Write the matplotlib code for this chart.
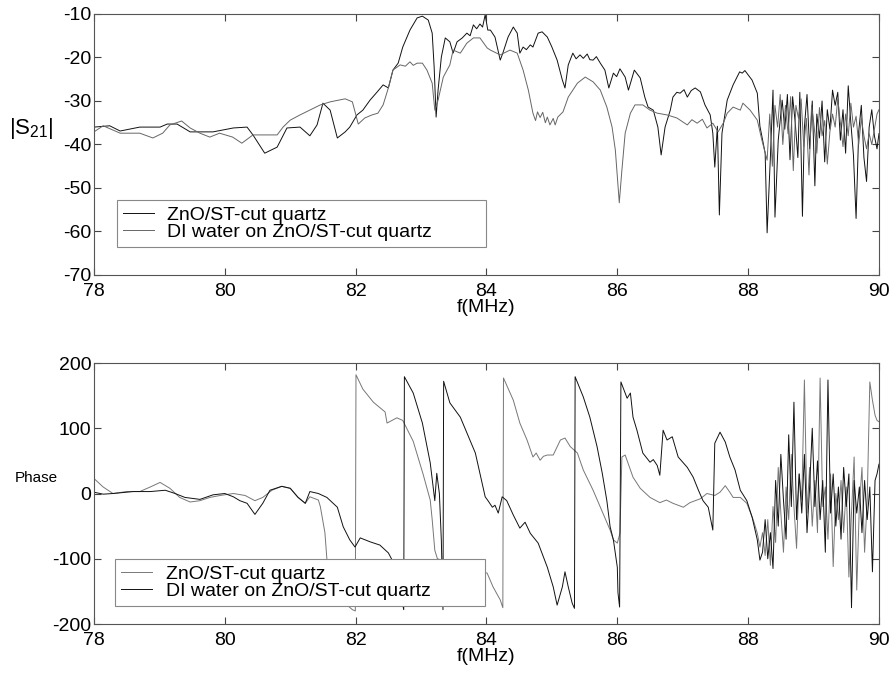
import matplotlib
matplotlib.use("Agg")
import matplotlib.pyplot as plt

plt.rcParams['font.family'] = ['Liberation Sans', 'DejaVu Sans']
plt.rcParams['mathtext.fontset'] = 'custom'
plt.rcParams['mathtext.rm'] = 'Liberation Sans'
plt.rcParams['mathtext.it'] = 'Liberation Sans'
plt.rcParams['axes.unicode_minus'] = False

# ---------------- top panel: |S21| (dB) ----------------
top_f_zno = [78.00, 78.24, 78.40, 78.70, 79.01, 79.12, 79.27, 79.47, 79.62, 79.82, 80.13, 80.34, 80.43,
             80.61, 80.80, 80.95, 81.15, 81.30, 81.41, 81.50, 81.61, 81.72, 81.84, 81.91, 82.02, 82.11,
             82.22, 82.33, 82.42, 82.50, 82.57, 82.65, 82.72, 82.83, 82.94, 83.02, 83.11, 83.17, 83.20,
             83.23, 83.26, 83.31, 83.37, 83.44, 83.49, 83.55, 83.63, 83.70, 83.75, 83.80, 83.85, 83.90,
             83.94, 83.98, 84.02, 84.06, 84.13, 84.21, 84.25, 84.33, 84.41, 84.47, 84.51, 84.56, 84.61,
             84.67, 84.71, 84.79, 84.85, 84.93, 85.00, 85.08, 85.16, 85.20, 85.25, 85.32, 85.37, 85.43,
             85.48, 85.54, 85.58, 85.63, 85.68, 85.74, 85.81, 85.87, 85.94, 85.99, 86.04, 86.12, 86.17,
             86.26, 86.35, 86.42, 86.47, 86.55, 86.62, 86.67, 86.73, 86.81, 86.85, 86.91, 86.96, 87.02,
             87.07, 87.13, 87.19, 87.27, 87.34, 87.42, 87.46, 87.49, 87.53, 87.56, 87.60, 87.68, 87.77,
             87.83, 87.87, 87.91, 87.95, 87.98, 88.06, 88.14, 88.18, 88.26, 88.29, 88.34, 88.38, 88.41,
             88.46, 88.52, 88.56, 88.60, 88.64, 88.68, 88.72, 88.76, 88.79, 88.83, 88.86, 88.90, 88.94,
             88.98, 89.02, 89.05, 89.09, 89.13, 89.17, 89.21, 89.25, 89.29, 89.33, 89.37, 89.41, 89.45,
             89.49, 89.53, 89.57, 89.61, 89.65, 89.69, 89.73, 89.77, 89.81, 89.85, 89.89, 89.93, 89.97,
             90.00]
top_db_zno = [-36.0, -35.7, -36.9, -36.0, -36.0, -35.3, -35.3, -37.1, -37.1, -37.1, -36.2, -36.0, -37.8,
              -42.0, -40.6, -36.2, -36.0, -38.0, -35.5, -30.5, -32.1, -38.5, -37.1, -36.0, -33.2, -32.1,
              -29.8, -27.9, -26.3, -27.0, -22.9, -21.3, -17.6, -13.7, -10.9, -10.5, -11.4, -14.4, -22.2,
              -33.7, -27.5, -19.9, -15.5, -16.4, -19.0, -16.4, -15.5, -14.4, -15.0, -12.5, -13.4, -12.3,
              -13.0, -10.2, -13.7, -13.7, -15.3, -20.6, -19.0, -15.3, -13.0, -14.4, -19.0, -17.6, -18.2,
              -17.1, -17.6, -14.4, -14.1, -15.3, -17.6, -20.6, -25.2, -27.0, -21.7, -19.0, -20.3, -19.4,
              -20.2, -19.2, -20.5, -20.6, -19.8, -21.3, -22.9, -27.0, -23.6, -24.4, -22.6, -24.5, -27.5,
              -22.9, -24.7, -29.1, -31.4, -32.1, -36.0, -42.4, -36.0, -32.1, -29.1, -28.0, -28.2, -27.4,
              -29.1, -27.6, -27.0, -27.9, -30.9, -33.2, -37.4, -45.2, -35.8, -56.2, -37.4, -29.8, -26.3,
              -24.5, -23.3, -23.6, -23.0, -23.6, -25.2, -28.2, -35.8, -42.0, -60.3, -42.9, -27.5, -56.7,
              -39.0, -29.8, -36.5, -28.5, -43.5, -29.0, -35.0, -43.0, -28.0, -56.5, -36.0, -28.5, -41.0,
              -30.0, -49.5, -33.0, -38.5, -30.0, -44.0, -32.0, -36.5, -27.5, -31.0, -28.0, -39.0, -32.0,
              -42.0, -26.5, -35.0, -42.5, -57.0, -37.0, -31.0, -43.0, -48.5, -36.0, -32.0, -38.0, -41.0,
              -37.5]

top_f_water = [78.00, 78.14, 78.40, 78.70, 78.90, 79.05, 79.16, 79.34, 79.47, 79.62, 79.77, 79.92, 80.12,
               80.26, 80.43, 80.64, 80.80, 80.89, 81.00, 81.15, 81.30, 81.46, 81.61, 81.84, 81.95, 82.04,
               82.14, 82.25, 82.34, 82.42, 82.50, 82.57, 82.68, 82.76, 82.83, 82.88, 82.94, 83.02, 83.09,
               83.17, 83.21, 83.26, 83.34, 83.44, 83.49, 83.60, 83.70, 83.80, 83.90, 84.01, 84.06, 84.21,
               84.36, 84.47, 84.56, 84.64, 84.71, 84.75, 84.78, 84.82, 84.86, 84.90, 84.93, 84.97, 85.02,
               85.05, 85.09, 85.17, 85.25, 85.39, 85.51, 85.63, 85.74, 85.84, 85.92, 85.97, 86.03, 86.07,
               86.12, 86.20, 86.27, 86.39, 86.50, 86.61, 86.76, 86.91, 87.07, 87.14, 87.22, 87.30, 87.37,
               87.46, 87.54, 87.62, 87.68, 87.77, 87.88, 87.92, 88.03, 88.14, 88.21, 88.29, 88.33, 88.37,
               88.41, 88.45, 88.49, 88.53, 88.57, 88.61, 88.65, 88.69, 88.73, 88.77, 88.81, 88.85, 88.89,
               88.93, 88.97, 89.01, 89.05, 89.09, 89.13, 89.17, 89.21, 89.25, 89.29, 89.33, 89.37, 89.41,
               89.45, 89.49, 89.53, 89.57, 89.61, 89.65, 89.69, 89.73, 89.77, 89.81, 89.85, 89.89, 89.93,
               89.97, 90.00]
top_db_water = [-37.1, -35.7, -37.4, -37.4, -38.5, -37.4, -35.5, -34.6, -36.2, -37.4, -38.3, -37.4, -38.3,
                -39.7, -37.8, -37.8, -37.8, -36.0, -34.4, -33.2, -32.1, -30.9, -30.2, -29.5, -30.2, -35.3,
                -33.9, -33.2, -32.8, -30.9, -27.0, -22.9, -21.7, -22.0, -21.0, -21.8, -21.3, -21.3, -22.9,
                -25.9, -32.1, -29.8, -24.5, -21.7, -18.3, -19.0, -16.7, -15.5, -15.5, -17.8, -18.3, -19.4,
                -18.3, -19.0, -22.9, -27.5, -32.8, -34.5, -32.5, -33.8, -32.6, -35.0, -33.7, -35.5, -34.0,
                -35.5, -33.7, -32.5, -29.1, -25.9, -24.5, -25.6, -27.5, -31.4, -36.0, -41.3, -53.4, -45.9,
                -37.4, -32.8, -30.9, -30.9, -32.1, -32.8, -33.2, -33.9, -35.5, -34.3, -35.1, -34.2, -36.2,
                -35.1, -37.1, -35.1, -32.8, -31.4, -32.1, -30.5, -32.1, -34.4, -39.0, -43.6, -33.0, -45.0,
                -31.0, -36.0, -28.5, -40.0, -31.0, -37.5, -29.0, -46.0, -31.0, -34.0, -29.5, -40.5, -34.0,
                -47.0, -31.0, -36.0, -42.0, -31.5, -38.0, -34.5, -44.5, -37.0, -33.0, -36.0, -29.5, -35.0,
                -40.5, -33.0, -38.0, -30.5, -36.0, -33.5, -40.0, -34.0, -38.0, -41.0, -37.5, -40.0, -36.5,
                -33.0, -32.0]

# ---------------- bottom panel: phase (deg) ----------------
bot_f_zno = [78.00, 78.14, 78.29, 78.50, 78.70, 78.86, 79.01, 79.16, 79.31, 79.47, 79.62, 79.77, 79.93,
             80.13, 80.31, 80.46, 80.58, 80.72, 80.87, 81.00, 81.12, 81.23, 81.30, 81.43, 81.46, 81.53,
             81.56, 81.65, 81.80, 81.95, 81.995, 82.005, 82.11, 82.27, 82.45, 82.48, 82.63, 82.72, 82.88,
             83.03, 83.14, 83.17, 83.21, 83.25, 83.50, 83.75, 84.01, 84.10, 84.21, 84.25, 84.26, 84.41,
             84.51, 84.62, 84.71, 84.76, 84.82, 84.87, 84.93, 85.02, 85.13, 85.20, 85.28, 85.39, 85.48,
             85.63, 85.78, 85.89, 85.94, 86.00, 86.04, 86.07, 86.12, 86.24, 86.35, 86.50, 86.65, 86.75,
             86.85, 87.01, 87.11, 87.27, 87.37, 87.49, 87.57, 87.65, 87.72, 87.77, 87.88, 87.98, 88.08,
             88.14, 88.18, 88.22, 88.26, 88.30, 88.34, 88.38, 88.42, 88.46, 88.50, 88.54, 88.58, 88.62,
             88.66, 88.70, 88.74, 88.78, 88.82, 88.86, 88.90, 88.94, 88.98, 89.02, 89.06, 89.10, 89.14,
             89.18, 89.22, 89.26, 89.30, 89.34, 89.38, 89.42, 89.46, 89.50, 89.54, 89.58, 89.62, 89.66,
             89.70, 89.74, 89.78, 89.82, 89.86, 89.90, 89.94, 89.97, 90.00]
bot_ph_zno = [23, 10, 0, 3, 3, 10, 17, 8, -6, -13, -11, -6, -3,
              0, -3, -11, -6, 5, 11, 8, -6, -15, -5, -10, -20, -60,
              -100, -140, -165, -178, -180, 182, 160, 140, 125, 108, 116, 112, 80,
              30, -10, -40, -87, -100, -108, -115, -122, -143, -163, -175, 177, 143,
              108, 82, 56, 62, 51, 57, 59, 59, 82, 85, 72, 62, 36,
              5, -30, -56, -71, -76, -61, 56, 59, 25, 8, -6, -14, -10,
              -15, -21, -14, -8, 0, -3, 2, 12, 2, -6, -6, -15, -41,
              -61, -82, -60, -95, -40, -110, -20, -75, 40, -30, -90, 10, -40,
              60, -20, -84, 30, -10, 174, -30, 40, -50, 20, -60, 177, -20,
              10, -70, 30, -112, 0, -40, 20, -60, 10, -128, -30, 56, -148,
              -20, 40, -90, -10, 171, 143, 120, 112, 110]

bot_f_water = [78.00, 78.14, 78.29, 78.60, 78.86, 79.09, 79.24, 79.39, 79.62, 79.82, 80.00, 80.13, 80.23,
               80.34, 80.46, 80.58, 80.69, 80.87, 81.00, 81.12, 81.23, 81.30, 81.43, 81.56, 81.72, 81.81,
               81.91, 81.99, 82.07, 82.22, 82.37, 82.50, 82.60, 82.735, 82.745, 82.88, 83.02, 83.14, 83.21,
               83.24, 83.28, 83.31, 83.335, 83.345, 83.44, 83.60, 83.70, 83.83, 83.90, 83.98, 84.03, 84.09,
               84.13, 84.18, 84.24, 84.31, 84.41, 84.51, 84.59, 84.67, 84.79, 84.93, 85.02, 85.08, 85.16,
               85.20, 85.25, 85.31, 85.345, 85.355, 85.48, 85.58, 85.69, 85.77, 85.84, 85.89, 85.94, 86.00,
               86.01, 86.035, 86.055, 86.15, 86.20, 86.24, 86.30, 86.39, 86.50, 86.55, 86.61, 86.65, 86.70,
               86.76, 86.84, 86.93, 87.07, 87.16, 87.24, 87.31, 87.39, 87.46, 87.49, 87.57, 87.65, 87.72,
               87.80, 87.88, 87.98, 88.06, 88.14, 88.18, 88.22, 88.26, 88.30, 88.34, 88.38, 88.42, 88.46,
               88.50, 88.54, 88.58, 88.62, 88.66, 88.70, 88.74, 88.78, 88.82, 88.86, 88.90, 88.94, 88.98,
               89.02, 89.06, 89.10, 89.14, 89.18, 89.22, 89.26, 89.30, 89.34, 89.38, 89.42, 89.46, 89.50,
               89.54, 89.58, 89.62, 89.66, 89.70, 89.74, 89.78, 89.82, 89.86, 89.90, 89.94, 89.97, 90.00]
bot_ph_water = [2, -1, 0, 3, 3, 5, 0, -6, -9, -2, 0, -5, -11,
                -15, -32, -15, 5, 11, 8, -6, -15, 3, 0, -6, -21, -51,
                -71, -82, -68, -74, -79, -91, -110, -178, 179, 154, 108, 47, -11,
                31, 0, -72, -178, 172, 139, 117, 93, 62, 31, -5, -12, -21,
                -18, -30, -5, -11, -33, -53, -44, -61, -76, -113, -143, -171, -143,
                -120, -143, -168, -176, 179, 148, 117, 72, 31, -11, -51, -71, -113,
                -152, -174, 171, 146, 154, 117, 97, 62, 48, 52, 43, 28, 97,
                82, 87, 56, 40, 25, 5, -11, -21, -56, 77, 94, 79, 56,
                36, 5, -11, -36, -71, -102, -90, -40, -100, -60, -115, 20, -50,
                60, -10, -70, 90, -20, 140, -40, 30, -30, 60, -60, 10, 100,
                -20, 50, -40, 20, -90, 174, -30, 30, -50, 10, -70, 40, -20,
                30, -175, 20, -30, 10, -60, 20, -40, 10, -120, 20, 30, 45]

legend_labels = ["ZnO/ST-cut quartz", "DI water on ZnO/ST-cut quartz"]
top_yticks = [-70, -60, -50, -40, -30, -20, -10]
bot_yticks = [-200, -100, 0, 100, 200]
x_ticks = [78, 80, 82, 84, 86, 88, 90]

FS = 14
fig = plt.figure(figsize=(8.96, 6.76), dpi=100)
ax1 = fig.add_axes([0.1049, 0.5932, 0.8761, 0.3861])
ax2 = fig.add_axes([0.1049, 0.0769, 0.8761, 0.3861])

ax1.plot(top_f_zno, top_db_zno, color='#111111', lw=0.7, label=legend_labels[0])
ax1.plot(top_f_water, top_db_water, color='#666666', lw=0.7, label=legend_labels[1])
ax2.plot(bot_f_zno, bot_ph_zno, color='#777777', lw=0.7, label=legend_labels[0])
ax2.plot(bot_f_water, bot_ph_water, color='#111111', lw=0.7, label=legend_labels[1])

for ax, yt, ylim in ((ax1, top_yticks, (-70, -10)), (ax2, bot_yticks, (-200, 200))):
    ax.set_xlim(78, 90)
    ax.set_ylim(*ylim)
    ax.set_xticks(x_ticks)
    ax.set_yticks(yt)
    ax.tick_params(direction='in', top=True, right=True, length=5, width=0.8,
                   color='#444444', labelsize=FS)
    ax.tick_params(axis='x', pad=6)
    ax.tick_params(axis='y', pad=2)
    for s in ax.spines.values():
        s.set_color('#555555')
        s.set_linewidth(0.8)
    ax.set_xlabel('f(MHz)', fontsize=FS, labelpad=-1)

ax1.set_ylabel('|S$_{21}$|', fontsize=16, rotation=0, va='center', ha='center')
ax1.yaxis.set_label_coords(-0.080, 0.563)
ax2.set_ylabel('Phase', fontsize=11, rotation=0, va='center', ha='center')
ax2.yaxis.set_label_coords(-0.074, 0.56)

for ax, anchor in ((ax1, (0.029, 0.107, 0.471, 0.18)), (ax2, (0.027, 0.069, 0.471, 0.188))):
    leg = ax.legend(loc='lower left', bbox_to_anchor=anchor, mode='expand', borderaxespad=0,
                    fontsize=FS, frameon=True, fancybox=False, framealpha=1,
                    edgecolor='#888888', handlelength=1.6, handletextpad=0.7,
                    labelspacing=0.0, borderpad=0.3)
    leg.get_frame().set_linewidth(0.8)

fig.savefig('out.png', dpi=100)
